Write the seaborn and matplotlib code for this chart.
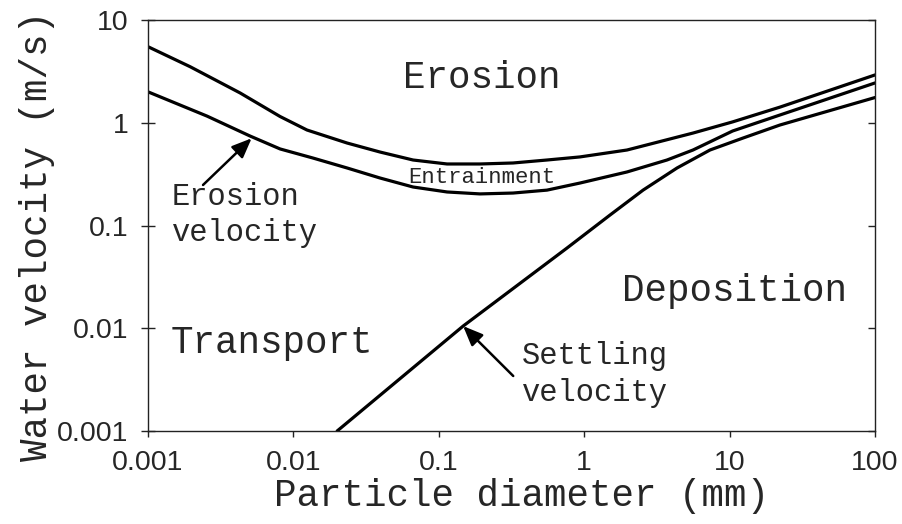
import numpy as np
import pandas as pd
import matplotlib
matplotlib.use("Agg")
import matplotlib.pyplot as plt
from matplotlib.ticker import FixedLocator, NullLocator
import seaborn as sns

# Hjulstrom diagram: particle diameter (mm) vs water velocity (m/s)
erosion_top_d = [0.001, 0.00195, 0.0043, 0.0081, 0.0124, 0.0234, 0.0394, 0.0665,
                 0.114, 0.192, 0.324, 0.555, 0.935, 1.97, 5.60, 10.5, 22.2, 100]
erosion_top_v = [5.50, 3.51, 1.95, 1.15, 0.85, 0.635, 0.519, 0.434,
                 0.397, 0.397, 0.406, 0.434, 0.465, 0.543, 0.794, 1.02, 1.42, 2.92]

erosion_low_d = [0.001, 0.00255, 0.00503, 0.0081, 0.0136, 0.0234, 0.0394, 0.0665,
                 0.114, 0.192, 0.324, 0.555, 0.935, 1.97, 3.71, 5.60, 10.5, 22.2, 100]
erosion_low_v = [2.00, 1.16, 0.743, 0.556, 0.454, 0.363, 0.290, 0.237,
                 0.212, 0.203, 0.207, 0.221, 0.259, 0.332, 0.434, 0.543, 0.832, 1.19, 2.44]

settling_d = [0.02, 0.147, 0.762, 1.50, 2.54, 4.35, 7.33, 12.4, 22.2, 100]
settling_v = [0.001, 0.0105, 0.0604, 0.126, 0.221, 0.363, 0.543, 0.711, 0.951, 1.76]

x_tick_values = [0.001, 0.01, 0.1, 1, 10, 100]
x_tick_labels = ["0.001", "0.01", "0.1", "1", "10", "100"]
y_tick_values = [0.001, 0.01, 0.1, 1, 10]
y_tick_labels = ["0.001", "0.01", "0.1", "1", "10"]

curves = pd.concat([
    pd.DataFrame({"d": erosion_top_d, "v": erosion_top_v, "curve": "erosion_top"}),
    pd.DataFrame({"d": erosion_low_d, "v": erosion_low_v, "curve": "erosion_low"}),
    pd.DataFrame({"d": settling_d, "v": settling_v, "curve": "settling"}),
], ignore_index=True)

sns.set_theme(style="white")
plt.rcParams["font.family"] = ["Liberation Sans", "DejaVu Sans"]
MONO = ["Liberation Mono", "DejaVu Sans Mono"]

fig = plt.figure(figsize=(9.03, 5.24), dpi=100)
ax = fig.add_axes([0.1639, 0.1775, 0.8051, 0.7843])

sns.lineplot(data=curves, x="d", y="v", units="curve", estimator=None,
             sort=False, color="black", lw=2.3, ax=ax, legend=False)

ax.set_xscale("log")
ax.set_yscale("log")
ax.set_xlim(0.001, 100)
ax.set_ylim(0.001, 10)

ax.xaxis.set_major_locator(FixedLocator(x_tick_values))
ax.yaxis.set_major_locator(FixedLocator(y_tick_values))
ax.xaxis.set_minor_locator(NullLocator())
ax.yaxis.set_minor_locator(NullLocator())
ax.set_xticklabels(x_tick_labels)
ax.set_yticklabels(y_tick_labels)

for s in ax.spines.values():
    s.set_color("#222222")
    s.set_linewidth(1.0)

ax.tick_params(axis="x", which="major", direction="out", length=4.5, width=1.0,
               color="#222222", labelsize=20.5, pad=9, bottom=True, top=False)
ax.tick_params(axis="y", which="major", direction="inout", length=10, width=1.0,
               color="#222222", labelsize=20.5, pad=9, left=True)
ax.yaxis.set_ticks_position("left")

# inward ticks along the right spine
ax_r = ax.secondary_yaxis("right")
ax_r.yaxis.set_major_locator(FixedLocator(y_tick_values))
ax_r.yaxis.set_minor_locator(NullLocator())
ax_r.tick_params(direction="in", length=5, width=1.0, color="#222222", labelright=False)
ax_r.spines["right"].set_visible(False)

ax.set_xlabel("Particle diameter (mm)", family=MONO, fontsize=27)
ax.set_ylabel("Water velocity (m/s)", family=MONO, fontsize=27)
ax.xaxis.set_label_coords(0.514, -0.158)
ax.yaxis.set_label_coords(-0.153, 0.474)
ax.xaxis.label.set_va("center")
ax.yaxis.label.set_va("center")

big = dict(family=MONO, fontsize=27, ha="left", va="baseline")
mid = dict(family=MONO, fontsize=22, ha="left", va="baseline")

ax.text(0.0568, 2.18, "Erosion", **big)
ax.text(0.00142, 0.00578, "Transport", **big)
ax.text(1.82, 0.0184, "Deposition", **big)
ax.text(0.0614, 0.259, "Entrainment", family=MONO, fontsize=16, ha="left", va="baseline")

ax.text(0.00146, 0.158, "Erosion", **mid)
ax.text(0.00146, 0.0706, "velocity", **mid)
ax.text(0.373, 0.00452, "Settling", **mid)
ax.text(0.373, 0.00195, "velocity", **mid)

arrow = dict(arrowstyle="-|>,head_length=0.6,head_width=0.25", color="black",
             lw=1.8, mutation_scale=20, shrinkA=0, shrinkB=0)
ax.annotate("", xy=(0.00516, 0.706), xytext=(0.00239, 0.248), arrowprops=arrow)
ax.annotate("", xy=(0.147, 0.0105), xytext=(0.325, 0.00343), arrowprops=arrow)

fig.savefig("out.png", dpi=100, facecolor="white")
